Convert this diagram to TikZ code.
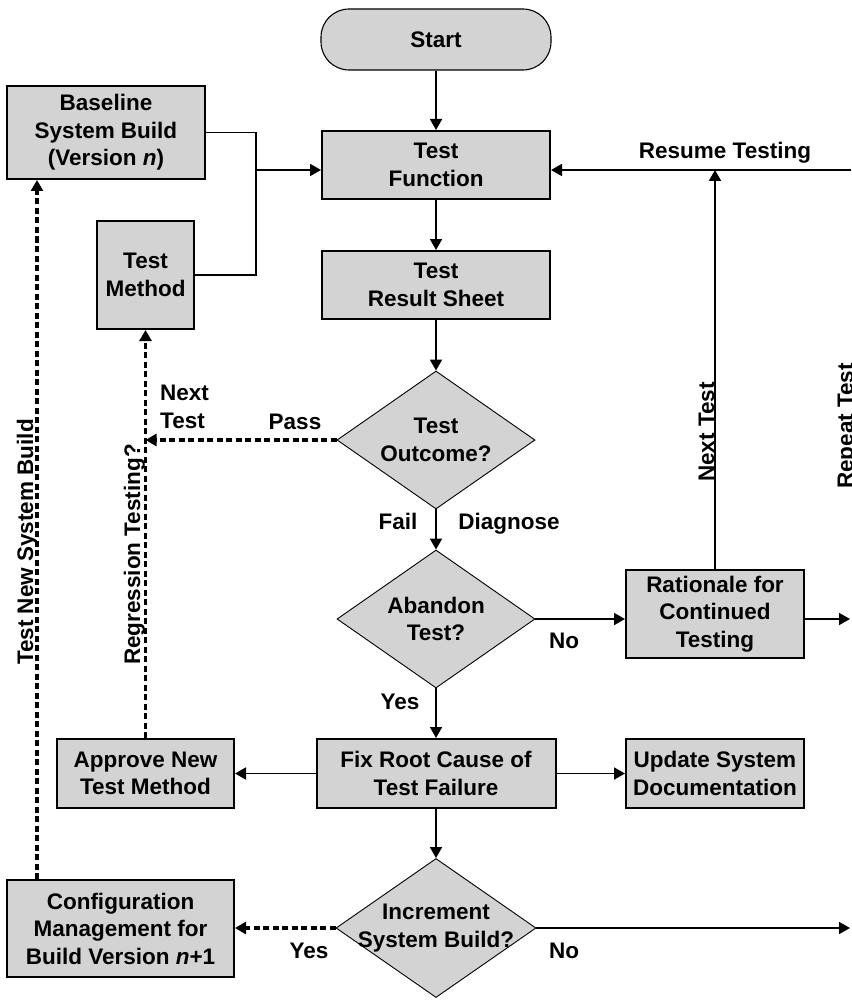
\documentclass[tikz,border=0pt]{standalone}
\usepackage{fontspec}
\setmainfont{Liberation Sans}
\usetikzlibrary{arrows.meta,shapes.geometric,calc}
\definecolor{boxgray}{RGB}{211,211,211}
\begin{document}
\begin{tikzpicture}[x=1pt,y=-1pt,
  every node/.style={font=\fontsize{22.5}{27.5}\selectfont\bfseries, inner sep=0pt},
  procbox/.style={draw, line width=2pt, fill=boxgray, rectangle, align=center},
  decision/.style={draw, line width=0.9pt, fill=boxgray, diamond},
  termbox/.style={draw, line width=1.1pt, fill=boxgray, rectangle, rounded corners=28pt, align=center},
  flow/.style={line width=1.8pt, -{Triangle[length=11pt,width=12pt]}},
  flowdash/.style={line width=3.3pt, dash pattern=on 6pt off 3.5pt, -{Triangle[length=11pt,width=12pt]}},
  link/.style={line width=1.8pt},
  tag/.style={anchor=base},
]
\path[use as bounding box, clip] (0,0) rectangle (851,1000);

% main column
\node[termbox, minimum width=230pt, minimum height=61pt] (start) at (436,39.5) {Start};
\node[procbox, minimum width=228pt, minimum height=68pt] (func) at (436,165) {Test\\Function};
\node[procbox, minimum width=228pt, minimum height=68pt] (sheet) at (436,285) {Test\\Result Sheet};
\node[decision, minimum width=198pt, minimum height=138pt,
      label={[align=center]center:Test\\Outcome?}] (outcome) at (436,440) {};
\node[decision, minimum width=198pt, minimum height=138pt,
      label={[align=center]center:Abandon\\Test?}] (abandon) at (436,619) {};
\node[procbox, minimum width=239pt, minimum height=69pt] (fix) at (436,773.5) {Fix Root Cause of\\Test Failure};
\node[decision, minimum width=200pt, minimum height=139pt,
      label={[align=center]center:Increment\\System Build?}] (incr) at (436,928) {};

% side boxes
\node[procbox, minimum width=178pt, minimum height=88pt] (rationale) at (715,614) {Rationale for\\Continued\\Testing};
\node[procbox, minimum width=178pt, minimum height=69pt] (update) at (715,773.5) {Update System\\Documentation};
\node[procbox, minimum width=177pt, minimum height=69pt] (approve) at (145.5,773.5) {Approve New\\Test Method};
\node[procbox, minimum width=227pt, minimum height=97pt] (config) at (120.5,928.5) {Configuration\\Management for\\Build Version \textit{n}+1};
\node[procbox, minimum width=198pt, minimum height=93pt] (baseline) at (106,132.5) {Baseline\\System Build\\(Version \textit{n})};
\node[procbox, minimum width=97pt, minimum height=108pt] (method) at (145.5,275) {Test\\Method};

% junction and loose ends
\coordinate (merge) at (256,170);
\coordinate (resume) at (851,170);
\coordinate (rightA) at (850,619);
\coordinate (rightB) at (850,928);
\coordinate (newbuild) at (37,500);

% connectors
\draw[flow] (start.south) -- (func.north);
\draw[link] (baseline.east) -| (merge) |- (method.east);
\draw[flow] (merge) -- (func.west |- merge);
\draw[flow] (func.south) -- (sheet.north);
\draw[flow] (sheet.south) -- (outcome.north);
\draw[flow] (outcome.south) -- (abandon.north);
\draw[flow] (abandon.south) -- (fix.north);
\draw[flow] (fix.south) -- (incr.north);
\draw[flow] (abandon.east) -- (rationale.west |- abandon.east);
\draw[flow] (rationale.north) -- (rationale.north |- resume);
\draw[flow] (resume) -- (func.east |- resume);
\draw[flow] (rationale.east |- abandon.east) -- (rightA);
\draw[flow] (fix.west) -- (approve.east);
\draw[flow] (fix.east) -- (update.west);
\draw[flow] (incr.east) -- (rightB);
\draw[flowdash] (incr.west) -- (config.east |- incr.west);
\draw[flowdash] (outcome.west) -- (method.south |- outcome.west);
\draw[flowdash] (approve.north) -- (method.south);
\draw[flowdash] (config.north -| newbuild) -- (baseline.south -| newbuild);

% connector labels
\node[tag] (lfail) at (398,529) {Fail};
\node[tag] (ldiag) at (509,529) {Diagnose};
\node[tag] (lno1) at (564,648) {No};
\node[tag] (lyes1) at (400,709) {Yes};
\node[tag] (lyes2) at (309,958) {Yes};
\node[tag] (lno2) at (564,958) {No};
\node[tag] (lpass) at (295,429) {Pass};
\node[anchor=west, align=left] (lnext) at (160,407) {Next\\Test};
\node[tag] (lresume) at (725,159) {Resume Testing};
\node[tag, rotate=90] (lnext2) at (714,432) {Next Test};
\node[tag, rotate=90] (lrepeat) at (853,426) {Repeat Test};
\node[tag, rotate=90] (lnewbuild) at (33,542) {Test New System Build};
\node[tag, rotate=90] (lregress) at (140,554.5) {Regression Testing?};
\end{tikzpicture}
\end{document}
